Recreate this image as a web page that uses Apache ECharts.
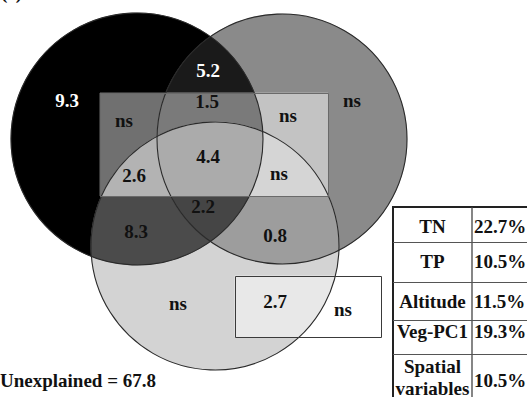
<!DOCTYPE html>
<html><head><meta charset="utf-8">
<script src="https://cdn.jsdelivr.net/npm/echarts@6/dist/echarts.min.js"></script>
<style>html,body{margin:0;padding:0;background:#fff;overflow:hidden}#c{width:527px;height:397px}</style>
</head><body><div id="c"></div>
<script>
// ---------- data ----------
const regionValues = ['9.3','5.2','1.5','ns','4.4','2.6','ns','ns','ns','2.2','8.3','0.8','ns','2.7','ns'];
const tableNames = ['TN','TP','Altitude','Veg-PC1','Spatial\nvariables'];
const tablePercents = ['22.7%','10.5%','11.5%','19.3%','10.5%'];
const unexplainedValue = '67.8';
const panelTitle = '(c) TN';

// ---------- layout (coordinates in a 527 x 397 value space) ----------
const W = 527, H = 397;
const circles = { B:{cx:137,cy:139,r:126}, G:{cx:282,cy:139,r:125}, L:{cx:215,cy:246,r:124} };
const rectR = {x0:100,y0:93,x1:328,y1:196};
const rectS = {x0:235,y0:276,x1:381,y1:337};
const labelPos = [[67,107],[208,77],[207,108],[124,127],[208,163],[134,182],[288,122],[352,107],[279,180],[203,213],[136,238],[275,242],[178,310],[275,308],[343,316]];
const labelWhite = [true,true];
const table = {x0:393, xm:472, x1:532, rows:[207,242,282,320,354,402]};
const nameBase = [233,268,308,338,373];
const pctBase = [233,268,308,338,387];
const LINE_GAP = 22;
const FONT = 'bold 19px "Liberation Serif", "Times New Roman", serif';

// ---------- geometry helpers ----------
function circlePoly(c){const p=[];const n=256;for(let i=0;i<n;i++){const a=2*Math.PI*i/n;p.push([c.cx+c.r*Math.cos(a),c.cy+c.r*Math.sin(a)]);}return p;}
function rectPoly(r){return [[r.x0,r.y0],[r.x1,r.y0],[r.x1,r.y1],[r.x0,r.y1]];}
function area(p){let s=0;for(let i=0;i<p.length;i++){const a=p[i],b=p[(i+1)%p.length];s+=a[0]*b[1]-b[0]*a[1];}return s/2;}
function inter(P,Q,a,b){const d1=[Q[0]-P[0],Q[1]-P[1]],d2=[b[0]-a[0],b[1]-a[1]];const den=d1[0]*d2[1]-d1[1]*d2[0];const t=((a[0]-P[0])*d2[1]-(a[1]-P[1])*d2[0])/den;return [P[0]+t*d1[0],P[1]+t*d1[1]];}
function clip(subject, cp){
  let out=subject; const s=Math.sign(area(cp));
  for(let i=0;i<cp.length;i++){
    const a=cp[i], b=cp[(i+1)%cp.length]; const inp=out; out=[]; if(!inp.length) break;
    const ins=p=>s*((b[0]-a[0])*(p[1]-a[1])-(b[1]-a[1])*(p[0]-a[0]))>=0;
    for(let j=0;j<inp.length;j++){const P=inp[j],Q=inp[(j+1)%inp.length];const pi=ins(P),qi=ins(Q);
      if(pi){out.push(P);if(!qi)out.push(inter(P,Q,a,b));}else if(qi){out.push(inter(P,Q,a,b));}}
  }
  return out;
}
const shapes = {B:circlePoly(circles.B),G:circlePoly(circles.G),L:circlePoly(circles.L),R:rectPoly(rectR),S:rectPoly(rectS)};
const regionDefs = [
  ['B','#000000'],['G','#8a8a8a'],['L','#d3d3d3'],['R','#c8c8c8'],
  ['BG','#1a1a1a'],['BL','#4b4b4b'],['GL','#9d9d9d'],['RB','#707070'],['RG','#c3c3c3'],['RL','#c9c9c9'],
  ['BGL','#454545'],['RBG','#7a7a7a'],['RBL','#b3b3b3'],['RGL','#d5d5d5'],
  ['RBGL','#ababab'],
  ['S','#ffffff'],['SL','#e8e8e8']
];
const regions = regionDefs.map(([k,c])=>{let p=shapes[k[0]];for(let i=1;i<k.length;i++)p=clip(p,shapes[k[i]]);return {pts:p,color:c};});

const chart = echarts.init(document.getElementById('c'), null, {renderer:'svg'});
const hiddenAxis = {show:false};
chart.setOption({
  backgroundColor:'#ffffff',
  animation:false,
  grid:{left:0,right:0,top:0,bottom:0},
  xAxis:{type:'value',min:0,max:W,...hiddenAxis},
  yAxis:{type:'value',min:0,max:H,inverse:true,...hiddenAxis},
  series:[
    {type:'custom', silent:true, data:regions.map((r,i)=>[i]), z:1,
     renderItem:(params,api)=>{const r=regions[params.dataIndex];
       return {type:'polygon',shape:{points:r.pts.map(p=>api.coord(p))},style:{fill:r.color,stroke:r.color,lineWidth:0.4}};}},
    {type:'custom', silent:true, data:[[0]], z:2,
     renderItem:(params,api)=>{
       const ch=[];
       ['B','G','L'].forEach(k=>{const c=circles[k];const p=api.coord([c.cx,c.cy]);const rr=api.size([c.r,0])[0];
         ch.push({type:'circle',shape:{cx:p[0],cy:p[1],r:rr},style:{fill:'none',stroke:'#2a2a2a',lineWidth:1.1}});});
       [[rectR,'#6a6a6a'],[rectS,'#3a3a3a']].forEach(([r,col])=>{const a=api.coord([r.x0,r.y0]),b=api.coord([r.x1,r.y1]);
         ch.push({type:'rect',shape:{x:a[0]+0.5,y:a[1]+0.5,width:b[0]-a[0],height:b[1]-a[1]},style:{fill:'none',stroke:col,lineWidth:1}});});
       return {type:'group',children:ch};}},
    {type:'custom', silent:true, data:regionValues.map((v,i)=>[labelPos[i][0],labelPos[i][1],v]), z:3,
     renderItem:(params,api)=>{const p=api.coord([api.value(0),api.value(1)-6.5]);
       return {type:'text',x:p[0],y:p[1],style:{text:regionValues[params.dataIndex],font:FONT,fill:labelWhite[params.dataIndex]?'#ffffff':'#111111',align:'center',verticalAlign:'middle'}};}},
    {type:'custom', silent:true, data:tableNames.map((n,i)=>[i]), z:4,
     renderItem:(params,api)=>{const i=params.dataIndex;const ch=[];
       const lines=tableNames[i].split('\n');
       lines.forEach((t,j)=>{const p=api.coord([(table.x0+table.xm)/2, nameBase[i]+j*LINE_GAP-6.5]);
         ch.push({type:'text',x:p[0],y:p[1],style:{text:t,font:FONT,fill:'#111',align:'center',verticalAlign:'middle'}});});
       const q=api.coord([table.xm+2,pctBase[i]-6.5]);
       ch.push({type:'text',x:q[0],y:q[1],style:{text:tablePercents[i],font:FONT,fill:'#111',align:'left',verticalAlign:'middle'}});
       return {type:'group',children:ch};}},
    {type:'custom', silent:true, data:[[0]], z:5,
     renderItem:(params,api)=>{const ch=[];const t=table;
       const tl=api.coord([t.x0,t.rows[0]]),br=api.coord([t.x1,t.rows[t.rows.length-1]]);
       ch.push({type:'rect',shape:{x:tl[0],y:tl[1],width:br[0]-tl[0],height:br[1]-tl[1]},style:{fill:'none',stroke:'#222',lineWidth:2}});
       const m1=api.coord([t.xm,t.rows[0]]),m2=api.coord([t.xm,t.rows[t.rows.length-1]]);
       ch.push({type:'line',shape:{x1:m1[0],y1:m1[1],x2:m2[0],y2:m2[1]},style:{stroke:'#444',lineWidth:1.3}});
       for(let k=1;k<t.rows.length-1;k++){const a=api.coord([t.x0,t.rows[k]]),b=api.coord([t.x1,t.rows[k]]);
         ch.push({type:'line',shape:{x1:a[0],y1:a[1]+0.5,x2:b[0],y2:b[1]+0.5},style:{stroke:'#555',lineWidth:1}});}
       return {type:'group',children:ch};}},
    {type:'custom', silent:true, data:[[0]], z:6,
     renderItem:(params,api)=>{const a=api.coord([0,387-6.5]);const b=api.coord([1,-8]);
       return {type:'group',children:[
         {type:'text',x:a[0],y:a[1],style:{text:'Unexplained = '+unexplainedValue,font:FONT,fill:'#111',align:'left',verticalAlign:'middle'}},
         {type:'text',x:b[0],y:b[1],style:{text:panelTitle,font:FONT,fill:'#111',align:'left',verticalAlign:'middle'}}
       ]};}}
  ]
});
</script></body></html>
